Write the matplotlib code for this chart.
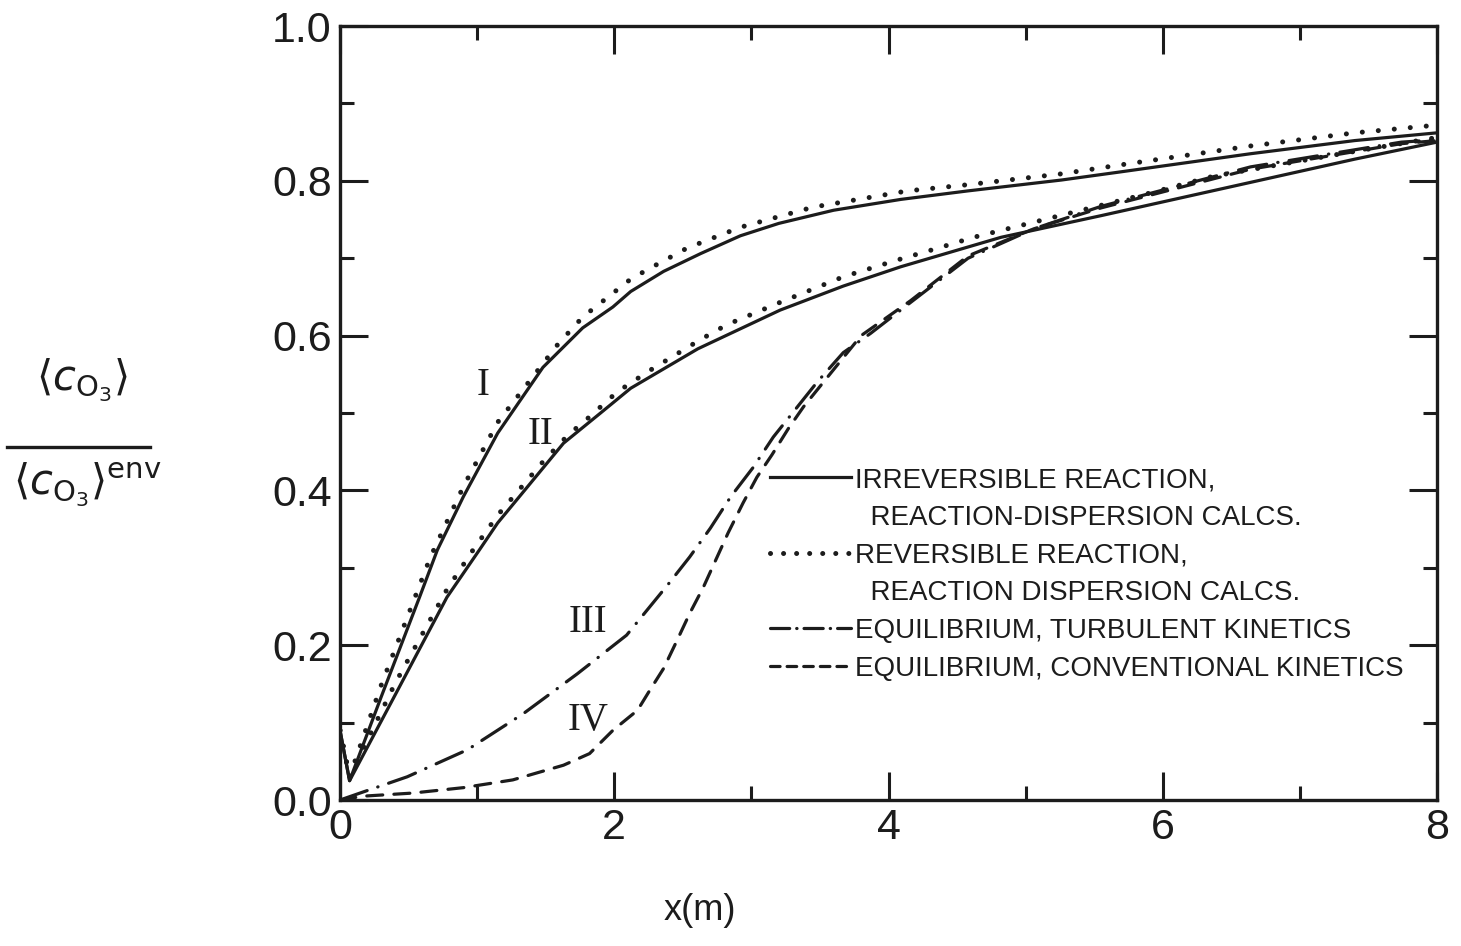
import numpy as np
import matplotlib.pyplot as plt
from matplotlib.lines import Line2D

# Curve I: irreversible (solid) and reversible (dotted)
x_irr1 = [0.0, 0.07, 0.3, 0.58, 0.71, 0.9, 1.15, 1.48, 1.77, 1.99, 2.12, 2.36, 2.63, 2.92, 3.2, 3.6, 4.09, 4.58, 5.26, 5.67, 6.64, 7.4, 8.0]
y_irr1 = [0.09, 0.025, 0.133, 0.262, 0.323, 0.392, 0.474, 0.559, 0.61, 0.637, 0.657, 0.683, 0.706, 0.729, 0.745, 0.762, 0.776, 0.787, 0.801, 0.811, 0.835, 0.852, 0.862]
x_rev1 = [0.0, 0.07, 0.3, 0.66, 0.9, 1.15, 1.59, 1.77, 2.12, 2.26, 2.53, 2.92, 3.45, 4.14, 4.58, 5.26, 5.67, 6.64, 7.4, 8.0]
y_rev1 = [0.09, 0.03, 0.148, 0.314, 0.405, 0.488, 0.589, 0.624, 0.673, 0.687, 0.713, 0.740, 0.766, 0.787, 0.795, 0.809, 0.820, 0.845, 0.862, 0.872]

# Curve II: irreversible (solid) and reversible (dotted)
x_irr2 = [0.0, 0.07, 0.4, 0.78, 1.02, 1.15, 1.63, 1.90, 2.12, 2.61, 3.21, 3.67, 4.09, 4.82, 5.55, 6.64, 7.4, 8.0]
y_irr2 = [0.09, 0.025, 0.135, 0.262, 0.324, 0.358, 0.461, 0.50, 0.532, 0.583, 0.633, 0.664, 0.689, 0.727, 0.755, 0.798, 0.828, 0.850]
x_rev2 = [0.0, 0.07, 0.4, 0.78, 0.97, 1.15, 1.47, 1.66, 1.80, 2.02, 2.25, 2.63, 2.82, 3.21, 3.67, 4.07, 4.36, 4.62, 4.89, 5.88, 6.37, 7.4, 8.0]
y_rev2 = [0.09, 0.03, 0.15, 0.272, 0.323, 0.368, 0.435, 0.471, 0.492, 0.527, 0.554, 0.595, 0.614, 0.643, 0.676, 0.698, 0.713, 0.727, 0.739, 0.783, 0.806, 0.838, 0.856]

# Curve III: equilibrium, turbulent kinetics
x_turb = [0.0, 0.146, 0.49, 0.93, 1.34, 1.73, 2.09, 2.39, 2.55, 2.70, 2.85, 3.01, 3.16, 3.48, 3.67, 3.87, 4.14, 4.58, 5.06, 5.55, 6.64, 7.74, 8.0]
y_turb = [0.0, 0.009, 0.030, 0.065, 0.112, 0.163, 0.213, 0.278, 0.314, 0.351, 0.392, 0.429, 0.469, 0.540, 0.578, 0.603, 0.640, 0.700, 0.738, 0.767, 0.818, 0.850, 0.853]

# Curve IV: equilibrium, conventional kinetics
x_conv = [0.0, 0.17, 0.53, 0.90, 1.26, 1.63, 1.82, 1.99, 2.17, 2.26, 2.36, 2.46, 2.55, 2.65, 2.83, 2.94, 3.04, 3.15, 3.27, 3.38, 3.80, 4.16, 4.58, 5.06, 5.55, 6.64, 7.74, 8.0]
y_conv = [0.0, 0.005, 0.009, 0.016, 0.026, 0.045, 0.06, 0.09, 0.116, 0.142, 0.17, 0.207, 0.241, 0.275, 0.345, 0.384, 0.417, 0.446, 0.480, 0.508, 0.600, 0.645, 0.703, 0.738, 0.765, 0.815, 0.848, 0.852]

# curve tags (text, x, y)
tags = [("I", 1.04, 0.536), ("II", 1.46, 0.472), ("III", 1.81, 0.23), ("IV", 1.81, 0.103)]

legend_rows = ["IRREVERSIBLE REACTION,", "  REACTION-DISPERSION CALCS.",
               "REVERSIBLE REACTION,", "  REACTION DISPERSION CALCS.",
               "EQUILIBRIUM, TURBULENT KINETICS", "EQUILIBRIUM, CONVENTIONAL KINETICS"]

xticks = [0, 2, 4, 6, 8]
yticks = [0.0, 0.2, 0.4, 0.6, 0.8, 1.0]

ink = "#1c1c1c"
plt.rcParams['font.family'] = ['Liberation Sans', 'DejaVu Sans']

fig = plt.figure(figsize=(14.61, 9.46), dpi=100)
ax = fig.add_axes([0.2327, 0.1543, 0.7509, 0.8182])

lw = 2.3
ax.plot(x_irr1, y_irr1, color=ink, lw=lw, solid_capstyle='round')
ax.plot(x_irr2, y_irr2, color=ink, lw=lw, solid_capstyle='round')
ax.plot(x_rev1, y_rev1, color=ink, lw=3.6, linestyle=(0, (0.01, 3.2)), dash_capstyle='round')
ax.plot(x_rev2, y_rev2, color=ink, lw=3.6, linestyle=(0, (0.01, 3.2)), dash_capstyle='round')
ax.plot(x_turb, y_turb, color=ink, lw=lw, linestyle=(0, (9, 3.5, 0.1, 3.5)), dash_capstyle='round')
ax.plot(x_conv, y_conv, color=ink, lw=lw, linestyle=(0, (5, 3.5)), dash_capstyle='round')

for txt, tx, ty in tags:
    ax.text(tx, ty, txt, family='Liberation Serif', fontsize=28, ha='center', va='center', color=ink)

ax.set_xlim(0, 8)
ax.set_ylim(0, 1.0)
ax.set_xticks(xticks)
ax.set_xticklabels([str(v) for v in xticks])
ax.set_yticks(yticks)
ax.set_yticklabels([f"{v:.1f}" for v in yticks])
ax.set_xticks(np.arange(1, 8, 2), minor=True)
ax.set_yticks(np.arange(0.1, 1.0, 0.2), minor=True)
ax.tick_params(which='both', direction='in', top=True, right=True, width=2.2, color=ink,
               labelsize=31, labelcolor=ink)
ax.tick_params(which='major', length=20)
ax.tick_params(which='minor', length=10)
ax.tick_params(axis='x', pad=6)
ax.tick_params(axis='y', pad=6)
for s in ax.spines.values():
    s.set_linewidth(2.4)
    s.set_color(ink)

handles = [Line2D([], [], color=ink, lw=lw),
           Line2D([], [], color='none'),
           Line2D([], [], color=ink, lw=3.6, linestyle=(0, (0.01, 2.6)), dash_capstyle='round'),
           Line2D([], [], color='none'),
           Line2D([], [], color=ink, lw=lw, linestyle=(0, (6, 2.2, 0.1, 2.2)), dash_capstyle='round'),
           Line2D([], [], color=ink, lw=lw, linestyle=(0, (3, 2.2)), dash_capstyle='round')]
ax.legend(handles, legend_rows, loc='upper left', bbox_to_anchor=(0.392, 0.43), frameon=False,
          fontsize=20, handlelength=2.9, handletextpad=0.15, labelspacing=0.42, borderpad=0,
          borderaxespad=0, labelcolor=ink)

ax.set_xlabel("x(m)", fontsize=26, color=ink)
ax.xaxis.set_label_coords(0.328, -0.12)

# fraction label on the y side
fig.text(0.056, 0.598, r"$\left\langle c_{\mathrm{O}_3} \right\rangle$", fontsize=30,
         ha='center', va='center', color=ink)
fig.text(0.060, 0.487, r"$\left\langle c_{\mathrm{O}_3} \right\rangle^{\mathrm{env}}$", fontsize=30,
         ha='center', va='center', color=ink)
fig.add_artist(Line2D([0.005, 0.103], [0.527, 0.527], transform=fig.transFigure, color=ink, lw=2.4))

fig.savefig("out.png", dpi=100, facecolor='white')
